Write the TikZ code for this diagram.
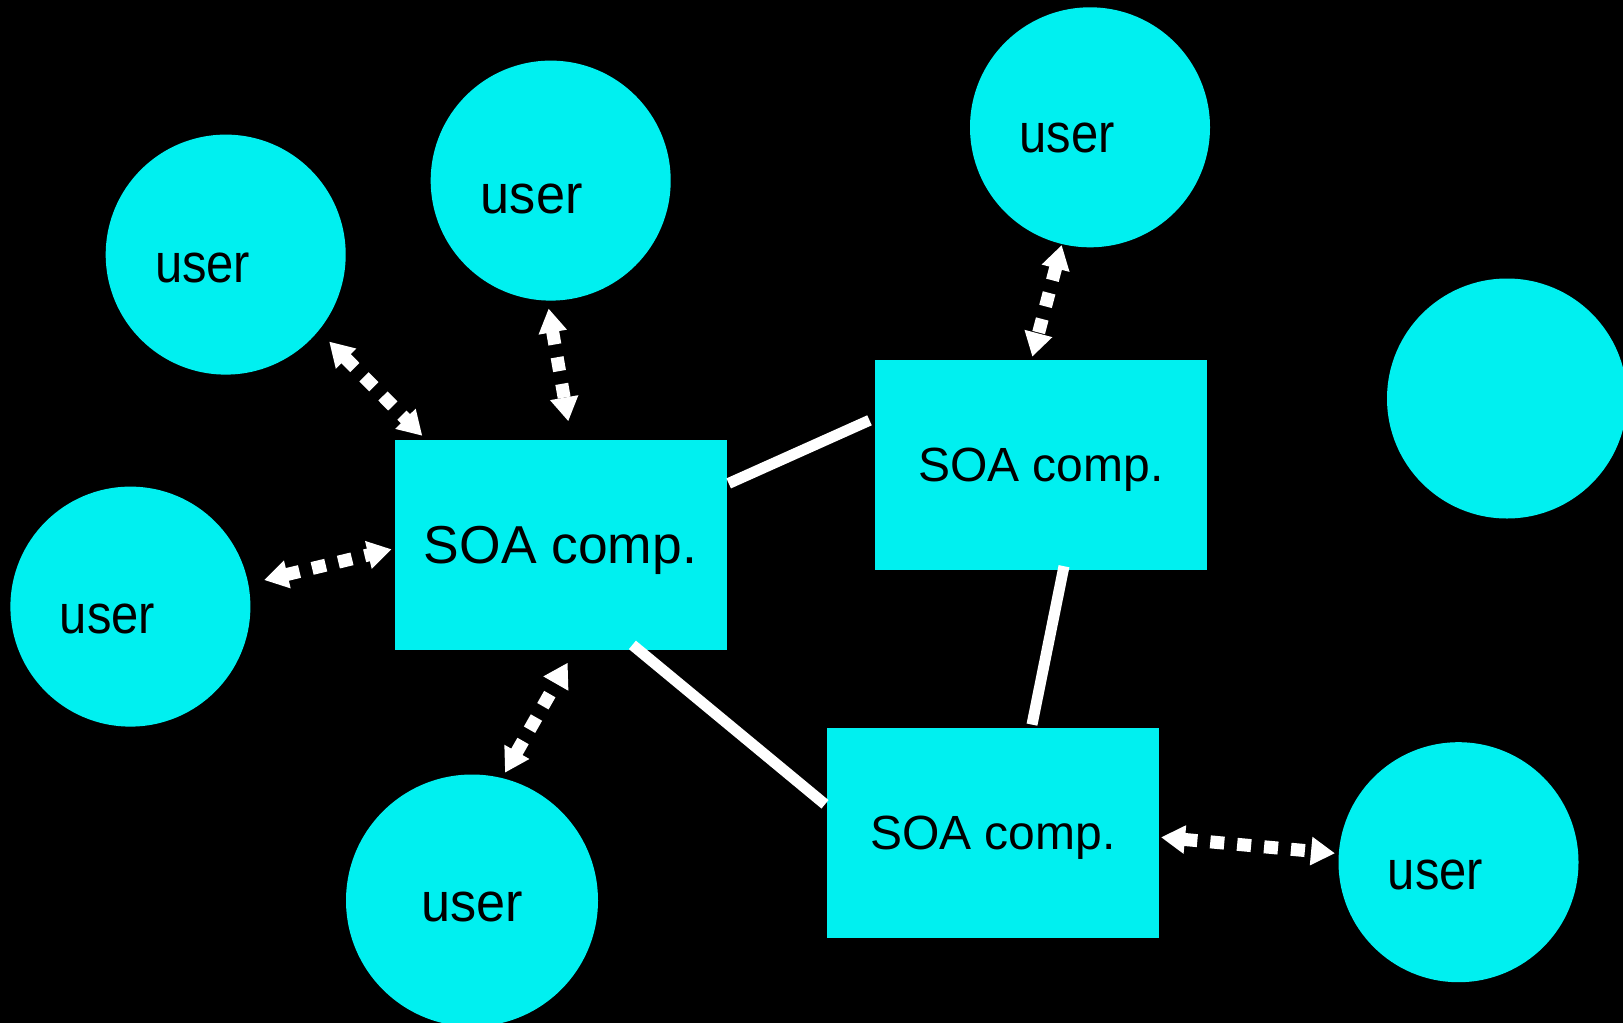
\documentclass[tikz,border=0pt]{standalone}
\usepackage{graphicx}
\usepackage{fontspec}
\setmainfont{Liberation Sans}
\usetikzlibrary{arrows.meta,calc}
\definecolor{soacyan}{RGB}{0,240,240}
\begin{document}
\begin{tikzpicture}[x=0.5pt,y=-0.5pt,
  usr/.style={circle,fill=soacyan,minimum size=120pt,inner sep=0pt},
  comp/.style={rectangle,fill=soacyan,minimum width=166pt,minimum height=105pt,inner sep=0pt,
    font=\fontsize{24}{28}\selectfont,text depth=0pt},
  utext/.style={font=\fontsize{27.5}{30}\selectfont,inner sep=0pt,text depth=0pt},
  link/.style={draw=white,line width=5.5pt},
  dar/.style={draw=white,line width=6.5pt,dash pattern=on 7pt off 6.5pt,
    {Triangle[length=12pt,width=13.5pt]}-{Triangle[length=12pt,width=13.5pt]}}]
\useasboundingbox (0,0) rectangle (1623,1023);
\clip (0,0) rectangle (1623,1023);
\fill[black] (0,0) rectangle (1623,1023);

% users
\node[usr,label={[utext,xshift=-11.5pt,yshift=-6.7pt]center:\scalebox{0.89}[1]{user}}] (u1) at (225.7,254.6) {};
\node[usr,label={[utext,xshift=-9.5pt,yshift=-9pt]center:\scalebox{0.95}[1]{user}}] (u2) at (550.7,180.6) {};
\node[usr,label={[utext,xshift=-11.5pt,yshift=-5pt]center:\scalebox{0.89}[1]{user}}] (u3) at (1090,127.3) {};
\node[usr] (u0) at (1507,398.5) {};
\node[usr,label={[utext,xshift=-11.5pt,yshift=-6pt]center:\scalebox{0.89}[1]{user}}] (u4) at (130.4,606.6) {};
\node[usr,minimum size=126pt,label={[utext,xshift=0pt,yshift=-3pt]center:\scalebox{0.95}[1]{user}}] (u5) at (472,900.5) {};
\node[usr,label={[utext,xshift=-11.5pt,yshift=-6pt]center:\scalebox{0.89}[1]{user}}] (u6) at (1458.5,862.2) {};

% components
\node[comp,font=\fontsize{26.7}{30}\selectfont] (A) at (560.5,545) {SOA comp.};
\node[comp] (B) at (1040.8,464.8) {SOA comp.};
\node[comp] (C) at (992.7,832.8) {SOA comp.};

% solid links
\draw[link] ($(A)+(168.2,-61.6)$) -- ($(B)+(-171.3,-44.5)$);
\draw[link] ($(B)+(23.2,101.4)$) -- ($(C)+(39.3,-108.2)$);
\draw[link] ($(A)+(71.9,99.9)$) -- ($(C)+(-167.7,-28.5)$);

% dashed double arrows
\draw[dar] ($(u1)+(103.5,87)$) -- ($(A)+(-138.2,-109.2)$);
\draw[dar] ($(u2)+(-2.1,127.9)$) -- ($(A)+(7.8,-123.7)$);
\draw[dar] ($(u3)+(-28.3,117.7)$) -- ($(B)+(-8.5,-108.1)$);
\draw[dar] ($(u4)+(133.6,-26.6)$) -- ($(A)+(-168.8,4.3)$);
\draw[dar] ($(u5)+(33,-127.8)$) -- ($(A)+(7.2,117.7)$);
\draw[dar] ($(C)+(168.3,4.5)$) -- ($(u6)+(-123.5,-8.9)$);
\end{tikzpicture}
\end{document}
